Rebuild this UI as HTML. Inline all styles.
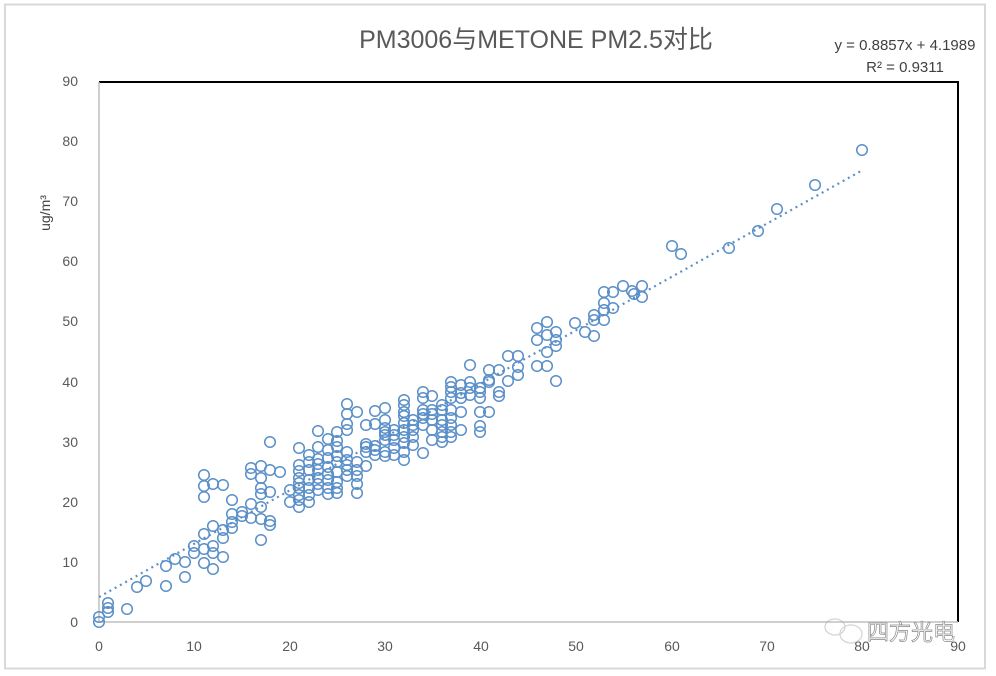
<!DOCTYPE html>
<html><head><meta charset="utf-8"><style>
html,body{margin:0;padding:0;background:#fff;}
svg{display:block;font-family:"Liberation Sans","Noto Sans CJK SC",sans-serif;}
</style></head><body>
<svg width="996" height="676" viewBox="0 0 996 676" xmlns="http://www.w3.org/2000/svg">
<rect x="0" y="0" width="996" height="676" fill="#fff"/>
<rect x="5" y="4.5" width="980" height="664" fill="none" stroke="#d9d9d9" stroke-width="2"/>
<text x="536" y="48" text-anchor="middle" font-size="25" fill="#595959" font-family="Liberation Sans,'Noto Sans CJK SC',sans-serif">PM3006与METONE  PM2.5对比</text>
<text x="905" y="50" text-anchor="middle" font-size="15" fill="#404040">y = 0.8857x + 4.1989</text>
<text x="905" y="72" text-anchor="middle" font-size="15" fill="#404040">R² = 0.9311</text>
<line x1="99" y1="82" x2="958" y2="82" stroke="#000" stroke-width="2"/>
<line x1="958" y1="81" x2="958" y2="622" stroke="#000" stroke-width="2"/>
<line x1="99" y1="82" x2="99" y2="622" stroke="#bfbfbf" stroke-width="1.5"/>
<line x1="99" y1="622" x2="958" y2="622" stroke="#bfbfbf" stroke-width="1.5"/>
<g font-size="14" fill="#595959" text-anchor="end">
<text x="78" y="627">0</text><text x="78" y="567">10</text><text x="78" y="507">20</text><text x="78" y="447">30</text><text x="78" y="387">40</text><text x="78" y="326">50</text><text x="78" y="266">60</text><text x="78" y="206">70</text><text x="78" y="146">80</text><text x="78" y="86">90</text>
</g>
<g font-size="14" fill="#595959" text-anchor="middle">
<text x="99" y="651">0</text><text x="194" y="651">10</text><text x="290" y="651">20</text><text x="385" y="651">30</text><text x="481" y="651">40</text><text x="576" y="651">50</text><text x="672" y="651">60</text><text x="767" y="651">70</text><text x="862" y="651">80</text><text x="958" y="651">90</text>
</g>
<text transform="translate(50,213) rotate(-90)" text-anchor="middle" font-size="14" fill="#404040">ug/m³</text>
<line x1="99" y1="597" x2="861" y2="171" stroke="#5b8fc6" stroke-width="2.2" stroke-dasharray="2,4"/>
<g fill="none" stroke="#5a8fc8" stroke-width="1.5">
<circle cx="99" cy="617" r="5.3"/><circle cx="99" cy="622" r="5.3"/><circle cx="108" cy="603" r="5.3"/><circle cx="108" cy="608" r="5.3"/><circle cx="108" cy="612" r="5.3"/><circle cx="127" cy="609" r="5.3"/><circle cx="137" cy="587" r="5.3"/><circle cx="146" cy="581" r="5.3"/><circle cx="166" cy="586" r="5.3"/><circle cx="166" cy="566" r="5.3"/><circle cx="175" cy="559" r="5.3"/><circle cx="185" cy="577" r="5.3"/><circle cx="185" cy="562" r="5.3"/><circle cx="194" cy="546" r="5.3"/><circle cx="194" cy="553" r="5.3"/><circle cx="204" cy="563" r="5.3"/><circle cx="204" cy="549" r="5.3"/><circle cx="204" cy="534" r="5.3"/><circle cx="213" cy="546" r="5.3"/><circle cx="213" cy="553" r="5.3"/><circle cx="213" cy="569" r="5.3"/><circle cx="213" cy="526" r="5.3"/><circle cx="213" cy="484" r="5.3"/><circle cx="204" cy="475" r="5.3"/><circle cx="204" cy="486" r="5.3"/><circle cx="204" cy="497" r="5.3"/><circle cx="223" cy="485" r="5.3"/><circle cx="223" cy="557" r="5.3"/><circle cx="223" cy="530" r="5.3"/><circle cx="223" cy="538" r="5.3"/><circle cx="232" cy="500" r="5.3"/><circle cx="232" cy="514" r="5.3"/><circle cx="232" cy="522" r="5.3"/><circle cx="232" cy="528" r="5.3"/><circle cx="242" cy="512" r="5.3"/><circle cx="242" cy="516" r="5.3"/><circle cx="251" cy="504" r="5.3"/><circle cx="251" cy="518" r="5.3"/><circle cx="261" cy="540" r="5.3"/><circle cx="261" cy="519" r="5.3"/><circle cx="261" cy="507" r="5.3"/><circle cx="261" cy="494" r="5.3"/><circle cx="261" cy="466" r="5.3"/><circle cx="270" cy="470" r="5.3"/><circle cx="261" cy="478" r="5.3"/><circle cx="251" cy="474" r="5.3"/><circle cx="251" cy="468" r="5.3"/><circle cx="270" cy="442" r="5.3"/><circle cx="270" cy="525" r="5.3"/><circle cx="270" cy="521" r="5.3"/><circle cx="280" cy="472" r="5.3"/><circle cx="270" cy="492" r="5.3"/><circle cx="261" cy="488" r="5.3"/>
<circle cx="290" cy="490" r="5.3"/><circle cx="290" cy="502" r="5.3"/>
<circle cx="299" cy="448" r="5.3"/><circle cx="299" cy="465" r="5.3"/><circle cx="299" cy="471" r="5.3"/><circle cx="299" cy="478" r="5.3"/><circle cx="299" cy="483" r="5.3"/><circle cx="299" cy="488" r="5.3"/><circle cx="299" cy="495" r="5.3"/><circle cx="299" cy="500" r="5.3"/><circle cx="299" cy="507" r="5.3"/>
<circle cx="309" cy="455" r="5.3"/><circle cx="309" cy="462" r="5.3"/><circle cx="309" cy="470" r="5.3"/><circle cx="309" cy="480" r="5.3"/><circle cx="309" cy="488" r="5.3"/><circle cx="309" cy="495" r="5.3"/><circle cx="309" cy="502" r="5.3"/>
<circle cx="318" cy="431" r="5.3"/><circle cx="318" cy="447" r="5.3"/><circle cx="318" cy="459" r="5.3"/><circle cx="318" cy="464" r="5.3"/><circle cx="318" cy="470" r="5.3"/><circle cx="318" cy="478" r="5.3"/><circle cx="318" cy="484" r="5.3"/><circle cx="318" cy="490" r="5.3"/>
<circle cx="328" cy="439" r="5.3"/><circle cx="328" cy="450" r="5.3"/><circle cx="328" cy="458" r="5.3"/><circle cx="328" cy="467" r="5.3"/><circle cx="328" cy="474" r="5.3"/><circle cx="328" cy="480" r="5.3"/><circle cx="328" cy="488" r="5.3"/><circle cx="328" cy="494" r="5.3"/>
<circle cx="337" cy="432" r="5.3"/><circle cx="337" cy="441" r="5.3"/><circle cx="337" cy="447" r="5.3"/><circle cx="337" cy="456" r="5.3"/><circle cx="337" cy="462" r="5.3"/><circle cx="337" cy="472" r="5.3"/><circle cx="337" cy="482" r="5.3"/><circle cx="337" cy="488" r="5.3"/><circle cx="337" cy="493" r="5.3"/>
<circle cx="347" cy="404" r="5.3"/><circle cx="347" cy="414" r="5.3"/><circle cx="347" cy="424" r="5.3"/><circle cx="347" cy="430" r="5.3"/><circle cx="347" cy="452" r="5.3"/><circle cx="347" cy="460" r="5.3"/><circle cx="347" cy="465" r="5.3"/><circle cx="347" cy="470" r="5.3"/><circle cx="347" cy="476" r="5.3"/>
<circle cx="357" cy="412" r="5.3"/><circle cx="357" cy="462" r="5.3"/><circle cx="357" cy="470" r="5.3"/><circle cx="357" cy="476" r="5.3"/><circle cx="357" cy="484" r="5.3"/><circle cx="357" cy="493" r="5.3"/>
<circle cx="366" cy="425" r="5.3"/><circle cx="366" cy="444" r="5.3"/><circle cx="366" cy="447" r="5.3"/><circle cx="366" cy="452" r="5.3"/><circle cx="366" cy="466" r="5.3"/>
<circle cx="375" cy="411" r="5.3"/><circle cx="375" cy="424" r="5.3"/><circle cx="375" cy="446" r="5.3"/><circle cx="375" cy="450" r="5.3"/><circle cx="375" cy="455" r="5.3"/>
<circle cx="385" cy="408" r="5.3"/><circle cx="385" cy="420" r="5.3"/><circle cx="385" cy="428" r="5.3"/><circle cx="385" cy="432" r="5.3"/><circle cx="385" cy="435" r="5.3"/><circle cx="385" cy="440" r="5.3"/><circle cx="385" cy="452" r="5.3"/><circle cx="385" cy="456" r="5.3"/>
<circle cx="394" cy="430" r="5.3"/><circle cx="394" cy="435" r="5.3"/><circle cx="394" cy="440" r="5.3"/><circle cx="394" cy="448" r="5.3"/><circle cx="394" cy="455" r="5.3"/>
<circle cx="404" cy="400" r="5.3"/><circle cx="404" cy="405" r="5.3"/><circle cx="404" cy="412" r="5.3"/><circle cx="404" cy="416" r="5.3"/><circle cx="404" cy="423" r="5.3"/><circle cx="404" cy="430" r="5.3"/><circle cx="404" cy="437" r="5.3"/><circle cx="404" cy="443" r="5.3"/><circle cx="404" cy="452" r="5.3"/><circle cx="404" cy="460" r="5.3"/>
<circle cx="413" cy="420" r="5.3"/><circle cx="413" cy="425" r="5.3"/><circle cx="413" cy="430" r="5.3"/><circle cx="413" cy="437" r="5.3"/><circle cx="413" cy="445" r="5.3"/>
<circle cx="423" cy="392" r="5.3"/><circle cx="423" cy="398" r="5.3"/><circle cx="423" cy="410" r="5.3"/><circle cx="423" cy="414" r="5.3"/><circle cx="423" cy="418" r="5.3"/><circle cx="423" cy="425" r="5.3"/><circle cx="423" cy="453" r="5.3"/>
<circle cx="432" cy="396" r="5.3"/><circle cx="432" cy="410" r="5.3"/><circle cx="432" cy="414" r="5.3"/><circle cx="432" cy="420" r="5.3"/><circle cx="432" cy="430" r="5.3"/><circle cx="432" cy="440" r="5.3"/>
<circle cx="442" cy="405" r="5.3"/><circle cx="442" cy="410" r="5.3"/><circle cx="442" cy="420" r="5.3"/><circle cx="442" cy="425" r="5.3"/><circle cx="442" cy="432" r="5.3"/><circle cx="442" cy="437" r="5.3"/><circle cx="442" cy="442" r="5.3"/>
<circle cx="451" cy="382" r="5.3"/><circle cx="451" cy="387" r="5.3"/><circle cx="451" cy="392" r="5.3"/><circle cx="451" cy="398" r="5.3"/><circle cx="451" cy="410" r="5.3"/><circle cx="451" cy="418" r="5.3"/><circle cx="451" cy="425" r="5.3"/><circle cx="451" cy="432" r="5.3"/><circle cx="451" cy="437" r="5.3"/>
<circle cx="461" cy="385" r="5.3"/><circle cx="461" cy="393" r="5.3"/><circle cx="461" cy="398" r="5.3"/><circle cx="461" cy="412" r="5.3"/><circle cx="461" cy="430" r="5.3"/>
<circle cx="470" cy="365" r="5.3"/><circle cx="470" cy="382" r="5.3"/><circle cx="470" cy="388" r="5.3"/><circle cx="470" cy="395" r="5.3"/>
<circle cx="480" cy="388" r="5.3"/><circle cx="480" cy="392" r="5.3"/><circle cx="480" cy="398" r="5.3"/><circle cx="480" cy="412" r="5.3"/><circle cx="480" cy="426" r="5.3"/><circle cx="480" cy="432" r="5.3"/>
<circle cx="489" cy="370" r="5.3"/><circle cx="489" cy="380" r="5.3"/><circle cx="489" cy="382" r="5.3"/><circle cx="489" cy="412" r="5.3"/>
<circle cx="499" cy="392" r="5.3"/><circle cx="499" cy="396" r="5.3"/><circle cx="499" cy="370" r="5.3"/>
<circle cx="508" cy="356" r="5.3"/><circle cx="508" cy="381" r="5.3"/>
<circle cx="518" cy="356" r="5.3"/><circle cx="518" cy="367" r="5.3"/><circle cx="518" cy="375" r="5.3"/>
<circle cx="537" cy="328" r="5.3"/><circle cx="537" cy="340" r="5.3"/><circle cx="537" cy="366" r="5.3"/>
<circle cx="547" cy="322" r="5.3"/><circle cx="547" cy="335" r="5.3"/><circle cx="547" cy="352" r="5.3"/><circle cx="547" cy="366" r="5.3"/>
<circle cx="556" cy="332" r="5.3"/><circle cx="556" cy="340" r="5.3"/><circle cx="556" cy="346" r="5.3"/><circle cx="556" cy="381" r="5.3"/>
<circle cx="575" cy="323" r="5.3"/><circle cx="585" cy="332" r="5.3"/>
<circle cx="594" cy="315" r="5.3"/><circle cx="594" cy="320" r="5.3"/><circle cx="594" cy="336" r="5.3"/>
<circle cx="604" cy="292" r="5.3"/><circle cx="604" cy="303" r="5.3"/><circle cx="604" cy="310" r="5.3"/><circle cx="604" cy="320" r="5.3"/>
<circle cx="613" cy="292" r="5.3"/><circle cx="613" cy="308" r="5.3"/>
<circle cx="623" cy="286" r="5.3"/><circle cx="632" cy="291" r="5.3"/><circle cx="634" cy="294" r="5.3"/>
<circle cx="642" cy="286" r="5.3"/><circle cx="642" cy="297" r="5.3"/>
<circle cx="672" cy="246" r="5.3"/><circle cx="681" cy="254" r="5.3"/><circle cx="729" cy="248" r="5.3"/><circle cx="758" cy="231" r="5.3"/><circle cx="777" cy="209" r="5.3"/><circle cx="815" cy="185" r="5.3"/><circle cx="862" cy="150" r="5.3"/>
</g>
<g opacity="0.5" fill="none" stroke="#aaa" stroke-width="1.3">
<ellipse cx="835" cy="627" rx="10" ry="8"/><ellipse cx="851" cy="634" rx="11" ry="9"/>
</g>
<text x="867" y="640" font-size="22" fill="#fff" stroke="#888" stroke-width="0.7" font-family="'Noto Sans CJK SC',sans-serif">四方光电</text>
</svg>
</body></html>
